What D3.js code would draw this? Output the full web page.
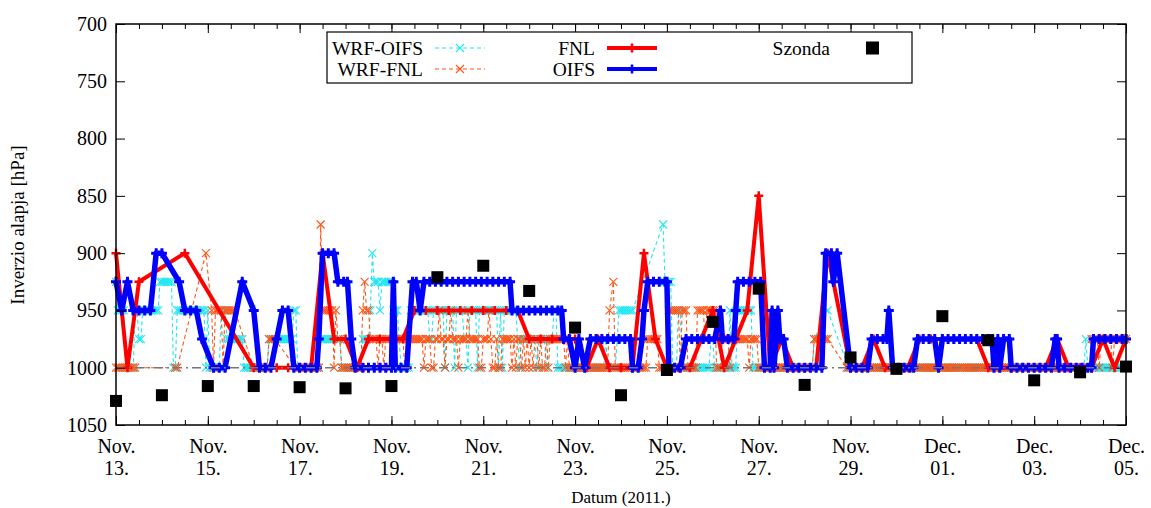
<!DOCTYPE html>
<html>
<head>
<meta charset="utf-8">
<script src="https://cdn.jsdelivr.net/npm/d3@7"></script>
<style>
body { margin: 0; background: #fff; }
svg text { font-family: "Liberation Serif", "Times New Roman", serif; fill: #000; }
</style>
</head>
<body>
<script>
// tick labels and levels
const xTickLabels = [["Nov.","13."],["Nov.","15."],["Nov.","17."],["Nov.","19."],["Nov.","21."],["Nov.","23."],
  ["Nov.","25."],["Nov.","27."],["Nov.","29."],["Dec.","01."],["Dec.","03."],["Dec.","05."]];
const yTicks = [700,750,800,850,900,950,1000,1050];

// WRF-OIFS, hourly from Nov 13 00h (one row per day)
const wrfOifs = [
 [925,950,950,950,950,1000,1000,1000,1000,1000,950,950,975,975,950,950,950,950,950,950,950,950,950,925],
 [925,925,925,925,925,925,1000,1000,950,950,950,950,950,950,950,950,950,950,950,950,950,950,950,1000],
 [950,1000,1000,1000,1000,1000,1000,950,950,950,975,975,975,975,975,975,975,975,975,1000,1000,1000,1000,1000],
 [1000,1000,1000,1000,1000,1000,1000,1000,975,975,975,975,975,975,975,975,975,975,975,975,975,950,950,1000],
 [1000,1000,1000,1000,1000,1000,1000,1000,1000,1000,1000,975,975,975,975,975,975,975,975,975,975,975,1000,1000],
 [1000,1000,1000,1000,1000,1000,1000,1000,1000,975,975,975,975,950,900,925,925,925,950,925,925,925,925,925],
 [925,950,950,950,975,1000,1000,1000,1000,1000,950,950,950,950,950,950,950,950,950,950,975,975,950,950],
 [950,950,950,950,1000,950,950,950,950,1000,950,950,950,950,975,975,1000,950,950,950,950,1000,950,950],
 [950,950,950,950,950,950,950,950,1000,950,1000,950,950,950,950,950,950,950,975,1000,975,975,975,975],
 [975,975,975,975,1000,975,975,975,975,1000,975,975,975,950,950,1000,1000,1000,1000,1000,1000,1000,1000,1000],
 [1000,1000,1000,1000,1000,1000,1000,1000,1000,1000,1000,1000,1000,1000,1000,1000,975,1000,1000,1000,1000,1000,975,950],
 [950,950,950,950,950,950,950,null,null,null,null,null,null,null,null,null,null,null,null,null,null,null,875,925],
 [925,925,925,1000,1000,1000,950,950,1000,1000,1000,1000,1000,1000,1000,1000,1000,1000,1000,1000,1000,1000,1000,975],
 [975,1000,1000,1000,1000,1000,1000,1000,1000,950,1000,1000,1000,950,950,950,950,950,950,950,950,1000,1000,1000],
 [1000,1000,1000,1000,1000,1000,1000,1000,1000,1000,1000,1000,1000,1000,1000,1000,1000,1000,1000,1000,1000,1000,1000,1000],
 [1000,1000,1000,1000,1000,975,null,null,null,null,null,null,950,null,null,null,null,null,null,null,null,null,null,1000],
 [1000,1000,1000,1000,1000,1000,1000,1000,1000,1000,1000,1000,1000,1000,1000,1000,1000,1000,1000,1000,1000,1000,1000,1000],
 [1000,1000,1000,1000,1000,1000,1000,1000,1000,1000,1000,1000,1000,1000,1000,1000,1000,1000,1000,1000,1000,1000,1000,1000],
 [1000,1000,1000,1000,1000,1000,1000,1000,1000,1000,1000,1000,1000,1000,1000,1000,1000,1000,1000,1000,1000,1000,1000,1000],
 [1000,1000,1000,1000,1000,1000,1000,1000,1000,1000,1000,1000,1000,1000,1000,1000,1000,1000,1000,1000,1000,1000,1000,1000],
 [1000,1000,1000,1000,1000,1000,1000,1000,1000,1000,1000,1000,1000,1000,1000,1000,1000,1000,1000,1000,1000,1000,1000,1000],
 [1000,1000,1000,975,1000,1000,1000,1000,1000,1000,1000,1000,1000,1000,1000,1000,1000,1000,1000,1000,1000,1000,1000,1000],
 [1000]
].flat();

// WRF-FNL, hourly from Nov 13 00h
const wrfFnl = [
 [1000,1000,1000,1000,1000,1000,1000,1000,1000,1000,1000,null,null,null,null,null,null,null,null,null,null,null,null,null],
 [null,null,null,null,null,null,null,1000,1000,null,null,null,null,null,null,null,null,null,null,null,null,null,null,900],
 [null,null,950,1000,950,950,950,950,1000,950,950,950,950,950,950,null,null,null,null,null,null,null,null,null],
 [1000,1000,1000,1000,1000,1000,1000,1000,975,975,975,975,null,null,null,null,null,null,null,null,null,null,1000,1000],
 [1000,1000,1000,1000,1000,1000,1000,1000,1000,1000,1000,875,950,950,950,950,950,950,1000,950,975,975,1000,1000],
 [1000,1000,1000,1000,1000,1000,1000,1000,1000,950,925,950,950,975,975,975,975,1000,975,975,1000,975,975,975],
 [975,975,975,975,975,975,975,1000,975,975,975,975,975,975,975,975,975,1000,975,975,975,1000,1000,975],
 [975,950,975,975,1000,975,975,950,975,975,975,1000,975,975,975,975,950,975,975,975,975,975,1000,1000],
 [975,975,975,950,975,1000,1000,975,1000,1000,975,975,975,975,975,1000,975,1000,975,975,1000,975,1000,975],
 [1000,975,1000,975,975,1000,975,1000,1000,975,1000,975,975,975,975,975,975,975,975,1000,975,1000,1000,1000],
 [1000,1000,1000,1000,1000,1000,1000,1000,1000,1000,1000,1000,1000,1000,1000,1000,1000,1000,950,null,925,1000,1000,1000],
 [1000,1000,1000,1000,1000,1000,1000,1000,1000,1000,1000,1000,1000,1000,975,975,975,975,975,975,1000,1000,1000,1000],
 [1000,950,950,950,950,950,950,1000,950,950,950,1000,1000,1000,1000,1000,950,950,950,950,975,950,950,950],
 [950,950,1000,1000,1000,975,975,975,975,1000,975,975,975,975,975,975,975,975,975,1000,975,975,975,975],
 [1000,1000,1000,1000,1000,1000,1000,1000,1000,1000,1000,1000,1000,1000,1000,1000,1000,1000,1000,1000,1000,1000,1000,1000],
 [1000,1000,1000,1000,1000,975,975,975,975,975,975,975,975,null,null,null,null,null,null,null,null,null,1000,1000],
 [1000,1000,1000,1000,1000,1000,1000,1000,1000,1000,1000,1000,1000,1000,1000,1000,1000,1000,1000,1000,1000,1000,1000,1000],
 [1000,1000,1000,1000,1000,1000,1000,1000,1000,1000,1000,1000,1000,1000,1000,1000,1000,1000,1000,1000,1000,1000,1000,1000],
 [1000,1000,1000,1000,1000,1000,1000,1000,1000,1000,1000,1000,1000,1000,1000,1000,1000,1000,1000,1000,1000,1000,1000,1000],
 [1000,1000,1000,1000,1000,1000,1000,1000,1000,1000,1000,1000,1000,1000,1000,1000,1000,1000,1000,1000,1000,1000,1000,1000],
 [1000,1000,1000,1000,1000,1000,1000,1000,1000,1000,1000,1000,1000,1000,1000,1000,1000,1000,1000,1000,1000,1000,1000,1000],
 [1000,1000,1000,1000,1000,1000,975,975,975,975,1000,975,975,975,975,975,975,1000,975,975,975,975,975,975],
 [975]
].flat();

// FNL analysis [hour, hPa]
const fnl = [[0,900],[6,1000],[12,925],[36,900],[72,1000],[78,1000],[84,1000],[90,1000],[96,1000],[102,1000],
 [108,900],[114,975],[120,975],[126,1000],[132,975],[138,975],[144,975],[150,975],[156,950],[162,950],[168,950],
 [174,950],[180,950],[186,950],[192,950],[198,950],[204,950],[210,950],[216,975],[222,975],[228,975],[234,975],
 [240,975],[246,1000],[252,975],[258,1000],[264,1000],[270,1000],[276,900],[282,975],[288,1000],[294,1000],
 [300,1000],[306,975],[312,950],[318,1000],[324,975],[330,950],[336,850],[342,1000],[348,975],[354,1000],
 [360,1000],[366,1000],[372,900],[384,1000],[390,1000],[396,975],[402,1000],[408,1000],[414,1000],[420,975],
 [426,975],[432,975],[438,975],[444,975],[450,975],[456,1000],[462,1000],[468,1000],[474,1000],[480,1000],
 [486,1000],[492,975],[498,1000],[504,1000],[510,1000],[516,975],[522,1000],[528,975]];

// OIFS analysis [hour, hPa]
const oifs = [[0,925],[3,950],[6,925],[9,950],[12,950],[15,950],[18,950],[21,900],[24,900],[33,925],[36,950],
 [39,950],[42,950],[45,975],[51,1000],[54,1000],[57,1000],[66,925],[72,950],[75,1000],[78,1000],[81,1000],
 [84,975],[87,950],[90,950],[93,1000],[96,1000],[99,1000],[102,1000],[105,1000],[106,975],[108,900],[111,900],
 [114,900],[116,925],[119,925],[121,925],[123,975],[125,1000],[129,1000],[132,1000],[135,1000],[138,1000],
 [141,1000],[144,1000],[145,925],[146,1000],[149,1000],[152,1000],[155,925],[157,925],[159,950],[161,925],
 [164,925],[167,925],[170,925],[173,925],[176,925],[179,925],[182,925],[185,925],[188,925],[191,925],[194,925],
 [197,925],[200,925],[203,925],[206,925],[207,950],[210,950],[213,950],[216,950],[219,950],[222,950],[225,950],
 [228,950],[231,950],[233,950],[234,975],[237,975],[240,1000],[242,975],[245,1000],[248,975],[251,975],[254,975],
 [257,975],[260,975],[263,975],[266,975],[269,975],[270,1000],[273,1000],[275,975],[276,950],[278,925],[281,925],
 [284,925],[287,925],[288,925],[289,1000],[292,1000],[295,1000],[298,975],[301,975],[304,975],[307,975],[310,975],
 [313,975],[316,950],[317,975],[320,975],[323,975],[324,950],[325,925],[328,925],[331,925],[334,925],[337,925],
 [339,1000],[342,1000],[343,950],[344,1000],[346,950],[347,975],[349,975],[351,1000],[354,1000],[357,1000],
 [360,1000],[363,1000],[366,1000],[369,1000],[371,900],[374,900],[375,925],[377,900],[384,1000],[387,1000],
 [390,1000],[393,1000],[395,975],[398,975],[401,975],[403,975],[404,950],[406,1000],[409,1000],[412,1000],
 [415,1000],[417,1000],[419,975],[422,975],[425,975],[428,975],[430,1000],[432,975],[435,975],[438,975],[441,975],
 [444,975],[447,975],[450,975],[453,975],[456,975],[458,975],[459,1000],[461,975],[462,1000],[464,975],[467,975],
 [468,1000],[471,1000],[474,1000],[477,1000],[480,1000],[483,1000],[486,1000],[489,1000],[491,975],[492,975],
 [493,1000],[496,1000],[499,1000],[502,1000],[505,1000],[508,1000],[510,1000],[511,975],[514,975],[517,975],
 [520,975],[523,975],[526,975],[528,975]];

// radiosonde, once a day at 00h
const szondaHours = [0,24,48,72,96,120,144,168,192,216,240,264,288,312,336,360,384,408,432,456,480,504,528];
const szondaValues = [1029,1024,1016,1016,1017,1018,1016,921,911,933,965,1024,1002,960,931,1015,991,1001,955,976,1011,1004,999];

const width = 1151, height = 508;
const svg = d3.select("body").append("svg")
  .attr("width", width)
  .attr("height", height)

const x = d3.scaleLinear().domain([0, 528]).range([116, 1126]);
const y = d3.scaleLinear().domain([700, 1050]).range([24, 425]);

const hourly = arr => arr.map((v,i)=>[i,v]).filter(d => d[1] != null);

const line = d3.line().x(d=>x(d[0])).y(d=>y(d[1]));

function crosses(g, data, color, s){
  g.selectAll("path.m").data(data).enter().append("path")
    .attr("d", d=>`M${x(d[0])-s},${y(d[1])-s}L${x(d[0])+s},${y(d[1])+s}M${x(d[0])-s},${y(d[1])+s}L${x(d[0])+s},${y(d[1])-s}`)
    .attr("stroke", color).attr("stroke-width", 1.1).attr("fill","none")
}
function pluses(g, data, color, s, w){
  g.selectAll("path.m").data(data).enter().append("path")
    .attr("d", d=>`M${x(d[0])-s},${y(d[1])}L${x(d[0])+s},${y(d[1])}M${x(d[0])},${y(d[1])-s}L${x(d[0])},${y(d[1])+s}`)
    .attr("stroke", color).attr("stroke-width", w).attr("fill","none")
}

const plot = svg.append("g")

// WRF-OIFS
const cyan = "#22e6f0", orange = "#ff5517";
const g1 = plot.append("g")
const d1 = hourly(wrfOifs)
g1.append("path").datum(d1).attr("d", line)
  .attr("fill","none").attr("stroke",cyan).attr("stroke-width",1.1).attr("stroke-dasharray","4,3")
crosses(g1, d1, cyan, 4)

// WRF-FNL
const g2 = plot.append("g")
const d2 = hourly(wrfFnl)
g2.append("path").datum(d2).attr("d", line)
  .attr("fill","none").attr("stroke",orange).attr("stroke-width",1.1).attr("stroke-dasharray","4,3")
crosses(g2, d2, orange, 4)

// FNL
const g3 = plot.append("g")
g3.append("path").datum(fnl).attr("d", line)
  .attr("fill","none").attr("stroke","#ff0000").attr("stroke-width",4).attr("stroke-linejoin","round")
pluses(g3, fnl, "#ff0000", 4.5, 2.5)

// OIFS
const g4 = plot.append("g")
g4.append("path").datum(oifs).attr("d", line)
  .attr("fill","none").attr("stroke","#0000ff").attr("stroke-width",5.5).attr("stroke-linejoin","round")
pluses(g4, oifs, "#0000ff", 5, 3)

// 1000 hPa reference line
plot.append("line")
  .attr("x1", x(0)).attr("x2", x(528)).attr("y1", y(1000)).attr("y2", y(1000))
  .attr("stroke","#777").attr("stroke-width",1.5).attr("stroke-dasharray","9,4,2,4")

// Szonda
plot.selectAll("rect.sz").data(szondaHours).enter().append("rect")
  .attr("x", (d)=>x(d)-6).attr("y", (d,i)=>y(szondaValues[i])-6)
  .attr("width",12).attr("height",12).attr("fill","#000")

// axes
const minorX = d3.range(0, 529, 12);
const majorX = d3.range(0, 529, 48);

function styleAxis(g){
  g.select(".domain").remove();
  g.selectAll(".tick line").attr("stroke","#000").attr("stroke-width",1);
  g.attr("font-family", null).attr("font-size", 20);
}

svg.append("g").attr("transform","translate(116,0)")
  .call(d3.axisLeft(y).tickValues(yTicks).tickSize(-9).tickPadding(9).tickFormat(d3.format("d")))
  .call(styleAxis)
svg.append("g").attr("transform","translate(1126,0)")
  .call(d3.axisRight(y).tickValues(yTicks).tickSize(-9).tickFormat(""))
  .call(styleAxis)
svg.append("g").attr("transform","translate(0,425)")
  .call(d3.axisBottom(x).tickValues(minorX).tickSize(-5).tickFormat(""))
  .call(styleAxis)
svg.append("g").attr("transform","translate(0,24)")
  .call(d3.axisTop(x).tickValues(minorX).tickSize(-5).tickFormat(""))
  .call(styleAxis)
svg.append("g").attr("transform","translate(0,24)")
  .call(d3.axisTop(x).tickValues(majorX).tickSize(-9).tickFormat(""))
  .call(styleAxis)

const xb = svg.append("g").attr("transform","translate(0,425)")
  .call(d3.axisBottom(x).tickValues(majorX).tickSize(-9).tickFormat(""))
  .call(styleAxis)
xb.selectAll(".tick").each(function(d,i){
  const t = d3.select(this).append("text").attr("text-anchor","middle").attr("fill","#000")
  t.append("tspan").attr("x",0).attr("y",28).text(xTickLabels[i][0])
  t.append("tspan").attr("x",0).attr("y",50).text(xTickLabels[i][1])
})

// frame
svg.append("rect").attr("x",116).attr("y",24).attr("width",1010).attr("height",401)
  .attr("fill","none").attr("stroke","#000").attr("stroke-width",1.5)

// axis titles
svg.append("text").attr("x",621).attr("y",503).attr("text-anchor","middle").attr("font-size",17)
  .text("Datum (2011.)")
svg.append("text").attr("transform","translate(24,225) rotate(-90)").attr("text-anchor","middle").attr("font-size",19)
  .text("Inverzio alapja [hPa]")

// legend
const key = svg.append("g")
key.append("rect").attr("x",327).attr("y",32).attr("width",585).attr("height",51)
  .attr("fill","#fff").attr("stroke","#000").attr("stroke-width",1.2)
const keyCols = [423, 595, 830];
const keyItems = [
  {name:"WRF-OIFS", col:0, row:0, color:cyan, kind:"wrf"},
  {name:"WRF-FNL", col:0, row:1, color:orange, kind:"wrf"},
  {name:"FNL", col:1, row:0, color:"#ff0000", kind:"an"},
  {name:"OIFS", col:1, row:1, color:"#0000ff", kind:"an"},
  {name:"Szonda", col:2, row:0, color:"#000", kind:"sq"}
];
keyItems.forEach(k=>{
  const tx = keyCols[k.col], ty = 48 + 21*k.row;
  key.append("text").attr("x",tx).attr("y",ty).attr("dy","0.35em").attr("text-anchor","end")
    .attr("font-size",19.5).text(k.name)
  const x0 = tx+12, x1 = tx+62, xm = tx+37;
  if (k.kind == "wrf"){
    key.append("line").attr("x1",x0).attr("x2",x1).attr("y1",ty).attr("y2",ty)
      .attr("stroke",k.color).attr("stroke-width",1.1).attr("stroke-dasharray","4,3")
    key.append("path").attr("d",`M${xm-4},${ty-4}L${xm+4},${ty+4}M${xm-4},${ty+4}L${xm+4},${ty-4}`)
      .attr("stroke",k.color).attr("stroke-width",1.1)
  } else if (k.kind == "an"){
    key.append("line").attr("x1",x0).attr("x2",x1).attr("y1",ty).attr("y2",ty)
      .attr("stroke",k.color).attr("stroke-width",4)
    key.append("path").attr("d",`M${xm},${ty-4.5}L${xm},${ty+4.5}`)
      .attr("stroke",k.color).attr("stroke-width",2.5)
  } else {
    key.append("rect").attr("x",tx+36).attr("y",ty-6.5).attr("width",13).attr("height",13).attr("fill",k.color)
  }
})
</script>
</body>
</html>
